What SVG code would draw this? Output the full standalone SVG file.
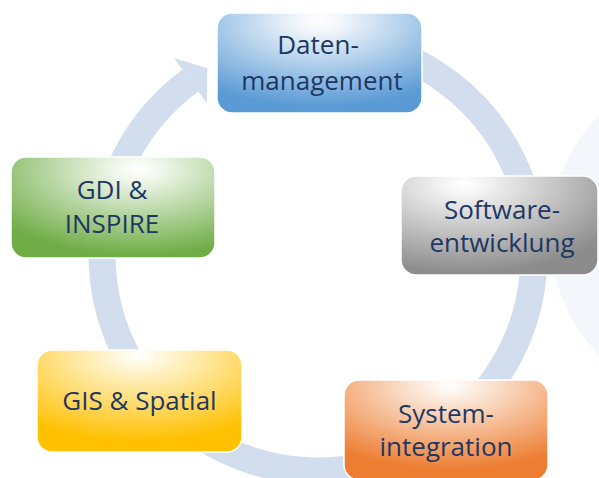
<svg xmlns="http://www.w3.org/2000/svg" width="599" height="478" viewBox="0 0 599 478">
<style>
  .box { stroke: #ffffff; stroke-width: 1.5; }
  .lbl { font-family: "Open Sans", "Noto Sans", sans-serif; font-size: 26px; fill: #1F3763; text-anchor: middle; }
  .ring { fill: none; stroke: #D2DDEE; stroke-width: 27; }
</style>
<defs>
  <radialGradient id="gBlue" cx="0.5" cy="0.08" r="0.85" fx="0.5" fy="0.08">
    <stop offset="0" stop-color="#FFFFFF"/>
    <stop offset="0.12" stop-color="#F3F7FC"/>
    <stop offset="1" stop-color="#5B9BD5"/>
  </radialGradient>
  <radialGradient id="gGrey" cx="0.32" cy="0.08" r="0.9" fx="0.32" fy="0.08">
    <stop offset="0" stop-color="#FFFFFF"/>
    <stop offset="0.12" stop-color="#F4F4F4"/>
    <stop offset="1" stop-color="#8C8C8C"/>
  </radialGradient>
  <radialGradient id="gGreen" cx="0.62" cy="0.12" r="0.85" fx="0.62" fy="0.12">
    <stop offset="0" stop-color="#FFFFFF"/>
    <stop offset="0.12" stop-color="#F2F8EE"/>
    <stop offset="1" stop-color="#70AD47"/>
  </radialGradient>
  <radialGradient id="gGold" cx="0.5" cy="0.05" r="0.85" fx="0.5" fy="0.05">
    <stop offset="0" stop-color="#FFFFFF"/>
    <stop offset="0.12" stop-color="#FFF8E0"/>
    <stop offset="1" stop-color="#FFC000"/>
  </radialGradient>
  <radialGradient id="gOrange" cx="0.52" cy="0.05" r="0.85" fx="0.52" fy="0.05">
    <stop offset="0" stop-color="#FFFFFF"/>
    <stop offset="0.12" stop-color="#FDF1E8"/>
    <stop offset="1" stop-color="#ED7D31"/>
  </radialGradient>
</defs>

<circle id="bg-circle" cx="721" cy="235" r="171" fill="#F3F6FB"/>

<g id="connectors">
  <path class="ring" d="M 244.1 52.0 A 216 216 0 1 1 190.4 80.7"/>
  <polygon points="173.9,58.1 207.3,68.3 207.0,103.3" fill="#D2DDEE"/>
</g>

<g id="node-daten">
  <rect class="box" x="217" y="13" width="205" height="100" rx="15" fill="url(#gBlue)"/>
  <text class="lbl" x="318" y="54">Daten-</text>
  <text class="lbl" x="322" y="90">management</text>
</g>

<g id="node-software">
  <rect class="box" x="401" y="176" width="197" height="99" rx="15" fill="url(#gGrey)"/>
  <text class="lbl" x="502" y="219">Software-</text>
  <text class="lbl" x="502" y="252">entwicklung</text>
</g>

<g id="node-gdi">
  <rect class="box" x="11" y="157" width="204" height="101" rx="15" fill="url(#gGreen)"/>
  <text class="lbl" x="112" y="199">GDI &amp;</text>
  <text class="lbl" x="112" y="233">INSPIRE</text>
</g>

<g id="node-gis">
  <rect class="box" x="37" y="350" width="205" height="102" rx="15" fill="url(#gGold)"/>
  <text class="lbl" x="139.5" y="410">GIS &amp; Spatial</text>
</g>

<g id="node-system">
  <rect class="box" x="344" y="380" width="204" height="100" rx="15" fill="url(#gOrange)"/>
  <text class="lbl" x="446" y="423">System-</text>
  <text class="lbl" x="446" y="456">integration</text>
</g>
</svg>
